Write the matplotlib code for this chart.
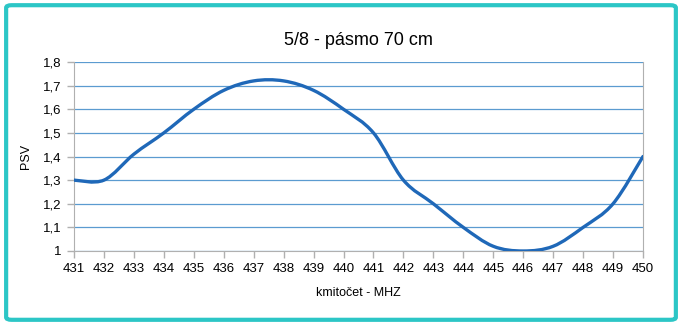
import matplotlib
matplotlib.use('Agg')
import matplotlib.pyplot as plt
import numpy as np
from matplotlib.path import Path
from matplotlib.patches import PathPatch, FancyBboxPatch

plt.rcParams['font.family'] = ['Liberation Sans', 'DejaVu Sans']

freq = [431, 432, 433, 434, 435, 436, 437, 438, 439, 440,
		441, 442, 443, 444, 445, 446, 447, 448, 449, 450]
psv = [1.30, 1.30, 1.41, 1.50, 1.60, 1.68, 1.72, 1.72, 1.68, 1.60,
	   1.50, 1.30, 1.20, 1.10, 1.02, 1.00, 1.02, 1.10, 1.20, 1.40]
yticks = [1, 1.1, 1.2, 1.3, 1.4, 1.5, 1.6, 1.7, 1.8]
ytick_labels = ['1', '1,1', '1,2', '1,3', '1,4', '1,5', '1,6', '1,7', '1,8']

line_color = '#1f68b8'
grid_color = '#5b9bd0'
spine_color = '#b0b0b0'


def smooth_path(x, y, tension=1 / 6):
	# Catmull-Rom style bezier segments, like spreadsheet "smoothed line"
	x = np.asarray(x, float)
	y = np.asarray(y, float)
	verts = [(x[0], y[0])]
	codes = [Path.MOVETO]
	n = len(x)
	for i in range(n - 1):
		p0 = i - 1 if i > 0 else i
		p3 = i + 2 if i + 2 < n else i + 1
		c1 = (x[i] + (x[i + 1] - x[p0]) * tension, y[i] + (y[i + 1] - y[p0]) * tension)
		c2 = (x[i + 1] - (x[p3] - x[i]) * tension, y[i + 1] - (y[p3] - y[i]) * tension)
		verts += [c1, c2, (x[i + 1], y[i + 1])]
		codes += [Path.CURVE4] * 3
	return Path(verts, codes)


fig = plt.figure(figsize=(6.82, 3.25), dpi=100)
ax = fig.add_axes([0.1085, 0.2277, 0.8343, 0.5815])

ax.add_patch(PathPatch(smooth_path(freq, psv), facecolor='none', edgecolor=line_color,
					   linewidth=2.4, capstyle='round', zorder=3))

ax.set_xlim(431, 450)
ax.set_ylim(1, 1.8)
ax.set_xticks(freq)
ax.set_xticklabels([str(f) for f in freq])
ax.set_yticks(yticks)
ax.set_yticklabels(ytick_labels)
ax.tick_params(axis='both', labelsize=9.5, color=spine_color, length=5, width=1, pad=4)
ax.yaxis.grid(True, color=grid_color, linewidth=0.9)
ax.set_axisbelow(True)
for side in ['left', 'bottom', 'right']:
	ax.spines[side].set_color(spine_color)
ax.spines['top'].set_visible(False)

ax.set_title('5/8 - pásmo 70 cm', fontsize=13, pad=12)
ax.set_xlabel('kmitočet - MHZ', fontsize=9, labelpad=8)
ax.set_ylabel('PSV', fontsize=9, labelpad=8)

border = FancyBboxPatch((0.009, 0.016), 0.982, 0.968, boxstyle='round,pad=0,rounding_size=0.008',
						transform=fig.transFigure, facecolor='none', edgecolor='#2cc6c6',
						linewidth=3)
fig.patches.append(border)

fig.savefig('out.png', dpi=100)
